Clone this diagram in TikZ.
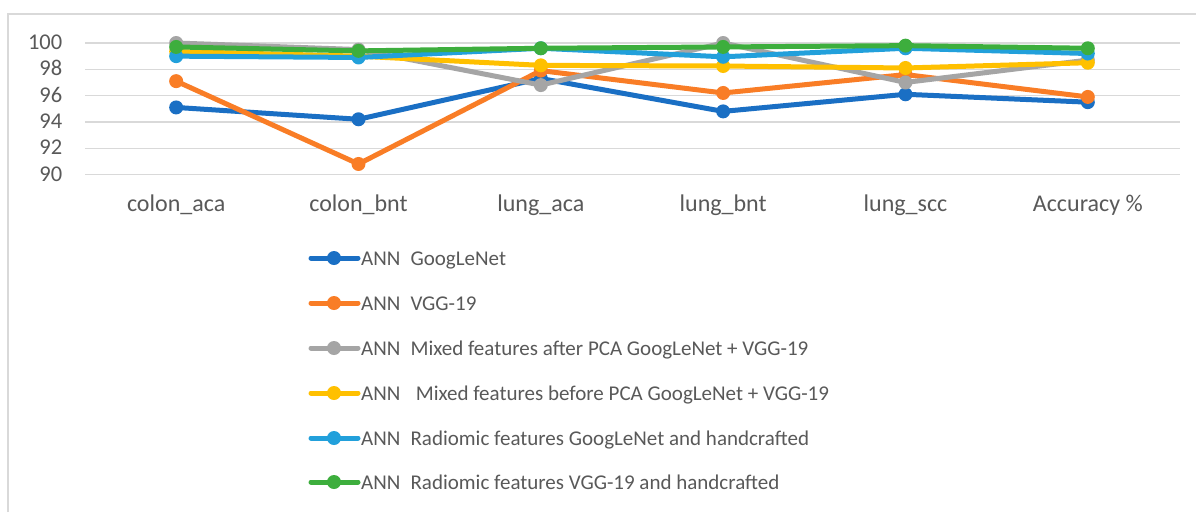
\documentclass[tikz,border=0pt]{standalone}
\usepackage{fontspec}
\setmainfont{Carlito}
\definecolor{txtgray}{HTML}{595959}
\definecolor{gridgray}{HTML}{D9D9D9}
\definecolor{framegray}{HTML}{D9D9D9}
\definecolor{sblue}{HTML}{1A6FC4}
\definecolor{sorange}{HTML}{F97D26}
\definecolor{sgray}{HTML}{A5A5A5}
\definecolor{syellow}{HTML}{FFC000}
\definecolor{slblue}{HTML}{22A0DB}
\definecolor{sgreen}{HTML}{3DAE3D}
\newcommand\drawseries[3]{%
  \foreach \v [count=\i from 0] in {#3} {\coordinate (#1-\i) at ({85+182.33*(\i+0.5)}, \v);}
  \draw[serline, #2] (#1-0) -- (#1-1) -- (#1-2) -- (#1-3) -- (#1-4) -- (#1-5);
  \foreach \i in {0,...,5} {\fill[#2] (#1-\i) circle (7pt);}
}
\newcommand\legentry[4]{% #1 name, #2 colour, #3 row, #4 text
  \coordinate (#1-la) at (311,#3);
  \coordinate (#1-lb) at (358,#3);
  \coordinate (#1-lm) at (334,#3);
  \draw[serline, #2] (#1-la) -- (#1-lb);
  \fill[#2] (#1-lm) circle (7pt);
  \node[legtext] (#1-txt) at (361,#3+7) {#4};
}
\begin{document}
\begin{tikzpicture}[x=1pt,y=-1pt,
  serline/.style={line width=5pt, line join=round, line cap=round},
  ticklab/.style={anchor=base east, text=txtgray, font=\fontsize{22.5}{26}\selectfont, inner sep=0pt},
  catlab/.style={anchor=base, text=txtgray, font=\fontsize{24}{28}\selectfont, inner sep=0pt},
  legtext/.style={anchor=base west, text=txtgray, font=\fontsize{21}{24}\selectfont, inner sep=0pt}]
\useasboundingbox (0,0) rectangle (1196,512);
\fill[white] (0,0) rectangle (1196,512);
\draw[framegray, line width=2pt] (8,512) -- (8,14) -- (1196,14);
% categories
\foreach \c [count=\i from 0] in {colon\_aca, colon\_bnt, lung\_aca, lung\_bnt, lung\_scc, Accuracy \%}
  {\node[catlab] (cat\i) at ({85+182.33*(\i+0.5)}, 211.5) {\c};}
\begin{scope}[yshift=-1358pt, y=13.15pt]
  \foreach \g in {90,92,...,100} {
    \draw[gridgray, line width=1.4pt] (85,\g) -- (1180,\g);
    \node[ticklab, yshift=-6.5pt] (tick\g) at (62.5,\g) {\g};
  }
  \drawseries{blue}{sblue}{95.1, 94.2, 97.3, 94.8, 96.1, 95.5}
  \drawseries{orange}{sorange}{97.1, 90.8, 97.9, 96.2, 97.6, 95.9}
  \drawseries{gray}{sgray}{100, 99.5, 96.8, 100, 97.0, 98.7}
  \drawseries{yellow}{syellow}{99.35, 99.0, 98.3, 98.25, 98.1, 98.5}
  \drawseries{lblue}{slblue}{99.0, 98.9, 99.6, 98.95, 99.6, 99.2}
  \drawseries{green}{sgreen}{99.7, 99.4, 99.6, 99.7, 99.8, 99.6}
\end{scope}
% legend
\legentry{lgblue}{sblue}{258}{ANN\hspace{0.48em}GoogLeNet}
\legentry{lgorange}{sorange}{303}{ANN\hspace{0.48em}VGG-19}
\legentry{lggray}{sgray}{348}{ANN\hspace{0.48em}Mixed features after PCA GoogLeNet + VGG-19}
\legentry{lgyellow}{syellow}{393}{ANN\hspace{0.73em}Mixed features before PCA GoogLeNet + VGG-19}
\legentry{lglblue}{slblue}{438}{ANN\hspace{0.48em}Radiomic features GoogLeNet and handcrafted}
\legentry{lggreen}{sgreen}{482}{ANN\hspace{0.48em}Radiomic features VGG-19 and handcrafted}
\end{tikzpicture}
\end{document}
